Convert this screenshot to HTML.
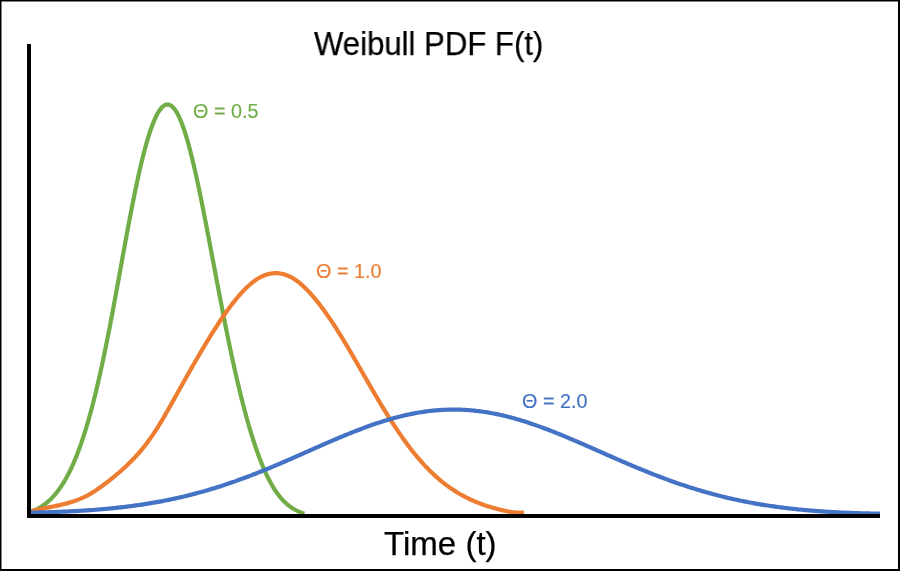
<!DOCTYPE html>
<html><head><meta charset="utf-8"><style>
html,body{margin:0;padding:0;background:#fff;}
body{width:900px;height:571px;overflow:hidden;position:relative;}
svg{position:absolute;left:0;top:0;}
.t{position:absolute;font-family:"Liberation Sans",sans-serif;white-space:nowrap;line-height:1;will-change:transform;}
</style></head><body>
<svg width="900" height="571" viewBox="0 0 900 571">
<rect x="0" y="0" width="900" height="571" fill="#fff"/>
<path d="M30.70,511.76 L32.10,511.25 L33.48,510.69 L34.84,510.10 L36.19,509.48 L37.52,508.81 L38.83,508.11 L40.11,507.37 L41.38,506.59 L42.63,505.78 L43.85,504.93 L45.06,504.05 L46.23,503.13 L47.39,502.18 L48.52,501.21 L49.62,500.20 L50.71,499.17 L51.76,498.11 L52.80,497.03 L53.81,495.92 L54.80,494.79 L55.77,493.65 L56.71,492.48 L57.63,491.30 L58.54,490.10 L59.42,488.88 L60.28,487.66 L61.13,486.41 L61.95,485.16 L62.76,483.89 L63.56,482.61 L64.33,481.33 L65.09,480.03 L65.84,478.72 L66.57,477.41 L67.29,476.09 L67.99,474.76 L68.68,473.42 L69.36,472.08 L70.03,470.73 L70.68,469.37 L71.32,468.01 L71.96,466.64 L72.58,465.27 L73.19,463.90 L73.79,462.52 L74.38,461.14 L74.97,459.75 L75.54,458.36 L76.11,456.96 L76.66,455.56 L77.21,454.16 L77.75,452.76 L78.29,451.35 L78.82,449.94 L79.34,448.53 L79.85,447.12 L80.36,445.70 L80.86,444.28 L81.35,442.86 L81.84,441.43 L82.32,440.01 L82.80,438.58 L83.27,437.15 L83.73,435.72 L84.19,434.29 L84.65,432.86 L85.10,431.42 L85.55,429.98 L85.99,428.54 L86.42,427.10 L86.85,425.66 L87.28,424.22 L87.71,422.78 L88.12,421.33 L88.54,419.89 L88.95,418.44 L89.36,416.99 L89.76,415.54 L90.16,414.09 L90.56,412.64 L90.95,411.19 L91.34,409.74 L91.73,408.28 L92.11,406.83 L92.49,405.37 L92.87,403.92 L93.25,402.46 L93.62,401.00 L93.99,399.55 L94.35,398.09 L94.72,396.63 L95.08,395.17 L95.43,393.71 L95.79,392.25 L96.14,390.79 L96.49,389.32 L96.84,387.86 L97.19,386.40 L97.53,384.93 L97.87,383.47 L98.21,382.00 L98.55,380.54 L98.88,379.07 L99.22,377.61 L99.55,376.14 L99.88,374.67 L100.20,373.21 L100.53,371.74 L100.85,370.27 L101.17,368.80 L101.49,367.33 L101.81,365.86 L102.13,364.39 L102.44,362.92 L102.76,361.45 L103.07,359.98 L103.38,358.51 L103.69,357.04 L104.00,355.57 L104.30,354.10 L104.61,352.62 L104.91,351.15 L105.21,349.68 L105.51,348.21 L105.81,346.73 L106.11,345.26 L106.41,343.79 L106.70,342.31 L107.00,340.84 L107.29,339.37 L107.58,337.89 L107.88,336.42 L108.17,334.94 L108.46,333.47 L108.74,331.99 L109.03,330.52 L109.32,329.04 L109.60,327.57 L109.89,326.09 L110.17,324.61 L110.46,323.14 L110.74,321.66 L111.02,320.19 L111.30,318.71 L111.58,317.23 L111.86,315.76 L112.14,314.28 L112.42,312.80 L112.69,311.32 L112.97,309.85 L113.25,308.37 L113.52,306.89 L113.80,305.42 L114.07,303.94 L114.35,302.46 L114.62,300.98 L114.89,299.50 L115.16,298.03 L115.44,296.55 L115.71,295.07 L115.98,293.59 L116.25,292.11 L116.52,290.64 L116.79,289.16 L117.06,287.68 L117.33,286.20 L117.60,284.72 L117.87,283.24 L118.14,281.77 L118.41,280.29 L118.67,278.81 L118.94,277.33 L119.21,275.85 L119.48,274.37 L119.75,272.89 L120.02,271.42 L120.28,269.94 L120.55,268.46 L120.82,266.98 L121.09,265.50 L121.36,264.02 L121.62,262.54 L121.89,261.07 L122.16,259.59 L122.43,258.11 L122.70,256.63 L122.96,255.15 L123.23,253.67 L123.50,252.19 L123.77,250.72 L124.04,249.24 L124.31,247.76 L124.58,246.28 L124.85,244.80 L125.12,243.32 L125.39,241.85 L125.67,240.37 L125.94,238.89 L126.21,237.41 L126.48,235.94 L126.76,234.46 L127.03,232.98 L127.30,231.50 L127.58,230.03 L127.86,228.55 L128.13,227.07 L128.41,225.59 L128.69,224.12 L128.97,222.64 L129.24,221.16 L129.52,219.69 L129.81,218.21 L130.09,216.74 L130.37,215.26 L130.65,213.78 L130.94,212.31 L131.22,210.83 L131.51,209.36 L131.80,207.88 L132.09,206.41 L132.38,204.93 L132.67,203.46 L132.96,201.98 L133.25,200.51 L133.55,199.04 L133.85,197.56 L134.14,196.09 L134.44,194.62 L134.74,193.15 L135.05,191.67 L135.35,190.20 L135.66,188.73 L135.96,187.26 L136.27,185.79 L136.59,184.32 L136.90,182.85 L137.21,181.38 L137.53,179.91 L137.85,178.44 L138.17,176.97 L138.50,175.50 L138.82,174.04 L139.15,172.57 L139.48,171.10 L139.82,169.64 L140.15,168.17 L140.49,166.71 L140.84,165.25 L141.18,163.78 L141.53,162.32 L141.89,160.86 L142.24,159.40 L142.60,157.94 L142.97,156.48 L143.33,155.02 L143.70,153.57 L144.08,152.11 L144.46,150.66 L144.85,149.20 L145.24,147.75 L145.63,146.30 L146.04,144.85 L146.44,143.40 L146.86,141.96 L147.28,140.51 L147.70,139.07 L148.14,137.63 L148.58,136.20 L149.03,134.76 L149.49,133.33 L149.96,131.90 L150.44,130.47 L150.93,129.05 L151.43,127.63 L151.94,126.22 L152.47,124.81 L153.02,123.40 L153.58,122.01 L154.15,120.62 L154.75,119.24 L155.37,117.86 L156.02,116.50 L156.69,115.16 L157.40,113.83 L158.15,112.52 L158.94,111.23 L159.79,109.98 L160.70,108.78 L161.69,107.63 L162.77,106.58 L163.98,105.66 L165.33,104.95 L166.80,104.55 L168.32,104.56 L169.78,104.98 L171.12,105.70 L172.31,106.63 L173.38,107.69 L174.35,108.84 L175.24,110.06 L176.07,111.31 L176.85,112.60 L177.58,113.91 L178.27,115.25 L178.93,116.60 L179.56,117.96 L180.17,119.34 L180.75,120.72 L181.31,122.12 L181.86,123.52 L182.39,124.92 L182.90,126.33 L183.40,127.75 L183.89,129.17 L184.37,130.59 L184.84,132.02 L185.29,133.45 L185.74,134.89 L186.18,136.32 L186.61,137.76 L187.04,139.20 L187.46,140.65 L187.87,142.09 L188.27,143.54 L188.67,144.99 L189.06,146.44 L189.45,147.89 L189.84,149.34 L190.22,150.79 L190.59,152.25 L190.96,153.70 L191.33,155.16 L191.69,156.62 L192.05,158.08 L192.40,159.54 L192.76,161.00 L193.10,162.46 L193.45,163.92 L193.79,165.39 L194.13,166.85 L194.47,168.31 L194.80,169.78 L195.14,171.24 L195.47,172.71 L195.79,174.17 L196.12,175.64 L196.44,177.11 L196.77,178.58 L197.08,180.04 L197.40,181.51 L197.72,182.98 L198.03,184.45 L198.35,185.92 L198.66,187.39 L198.97,188.86 L199.27,190.33 L199.58,191.80 L199.88,193.27 L200.19,194.74 L200.49,196.22 L200.79,197.69 L201.09,199.16 L201.39,200.63 L201.69,202.11 L201.99,203.58 L202.28,205.05 L202.58,206.53 L202.87,208.00 L203.16,209.47 L203.46,210.95 L203.75,212.42 L204.04,213.90 L204.33,215.37 L204.62,216.84 L204.90,218.32 L205.19,219.79 L205.48,221.27 L205.77,222.74 L206.05,224.22 L206.34,225.69 L206.62,227.17 L206.91,228.64 L207.19,230.12 L207.47,231.60 L207.76,233.07 L208.04,234.55 L208.32,236.02 L208.60,237.50 L208.88,238.98 L209.16,240.45 L209.44,241.93 L209.72,243.40 L210.01,244.88 L210.29,246.36 L210.56,247.83 L210.84,249.31 L211.12,250.79 L211.40,252.26 L211.68,253.74 L211.96,255.22 L212.24,256.69 L212.52,258.17 L212.80,259.65 L213.08,261.12 L213.36,262.60 L213.63,264.08 L213.91,265.55 L214.19,267.03 L214.47,268.51 L214.75,269.98 L215.03,271.46 L215.31,272.93 L215.59,274.41 L215.87,275.89 L216.15,277.36 L216.43,278.84 L216.71,280.32 L216.99,281.79 L217.27,283.27 L217.55,284.75 L217.83,286.22 L218.11,287.70 L218.39,289.17 L218.67,290.65 L218.95,292.13 L219.24,293.60 L219.52,295.08 L219.80,296.55 L220.09,298.03 L220.37,299.51 L220.65,300.98 L220.94,302.46 L221.22,303.93 L221.51,305.41 L221.80,306.88 L222.08,308.36 L222.37,309.83 L222.66,311.31 L222.95,312.78 L223.24,314.26 L223.53,315.73 L223.82,317.21 L224.11,318.68 L224.40,320.15 L224.69,321.63 L224.98,323.10 L225.28,324.57 L225.57,326.05 L225.87,327.52 L226.16,328.99 L226.46,330.47 L226.76,331.94 L227.06,333.41 L227.35,334.89 L227.65,336.36 L227.96,337.83 L228.26,339.30 L228.56,340.77 L228.86,342.25 L229.17,343.72 L229.48,345.19 L229.78,346.66 L230.09,348.13 L230.40,349.60 L230.71,351.07 L231.02,352.54 L231.33,354.01 L231.65,355.48 L231.96,356.95 L232.28,358.42 L232.60,359.88 L232.92,361.35 L233.24,362.82 L233.56,364.29 L233.88,365.76 L234.21,367.22 L234.53,368.69 L234.86,370.15 L235.19,371.62 L235.52,373.09 L235.85,374.55 L236.18,376.02 L236.52,377.48 L236.86,378.94 L237.20,380.41 L237.54,381.87 L237.88,383.33 L238.22,384.79 L238.57,386.26 L238.92,387.72 L239.27,389.18 L239.62,390.64 L239.98,392.10 L240.33,393.56 L240.69,395.01 L241.06,396.47 L241.42,397.93 L241.79,399.39 L242.15,400.84 L242.52,402.30 L242.90,403.75 L243.27,405.21 L243.65,406.66 L244.03,408.11 L244.42,409.56 L244.80,411.01 L245.19,412.46 L245.58,413.91 L245.98,415.36 L246.38,416.81 L246.78,418.26 L247.18,419.70 L247.59,421.15 L248.00,422.59 L248.41,424.03 L248.83,425.48 L249.25,426.92 L249.67,428.36 L250.10,429.80 L250.53,431.23 L250.97,432.67 L251.41,434.10 L251.85,435.54 L252.30,436.97 L252.75,438.40 L253.20,439.83 L253.66,441.26 L254.13,442.69 L254.60,444.11 L255.07,445.53 L255.55,446.95 L256.04,448.37 L256.53,449.79 L257.03,451.21 L257.53,452.62 L258.04,454.03 L258.55,455.44 L259.08,456.84 L259.61,458.25 L260.14,459.65 L260.69,461.05 L261.24,462.44 L261.80,463.83 L262.36,465.22 L262.94,466.61 L263.53,467.99 L264.12,469.36 L264.73,470.74 L265.34,472.11 L265.97,473.47 L266.61,474.83 L267.26,476.18 L267.92,477.53 L268.59,478.87 L269.28,480.20 L269.98,481.53 L270.70,482.85 L271.43,484.17 L272.18,485.47 L272.94,486.77 L273.73,488.05 L274.53,489.32 L275.35,490.58 L276.20,491.83 L277.07,493.06 L277.96,494.28 L278.88,495.48 L279.82,496.66 L280.79,497.83 L281.78,498.97 L282.81,500.08 L283.86,501.17 L284.94,502.23 L286.05,503.27 L287.19,504.27 L288.36,505.24 L289.56,506.17 L290.79,507.07 L292.04,507.93 L293.33,508.74 L294.64,509.52 L295.97,510.25 L297.32,510.94 L298.70,511.58 L300.09,512.18 L301.51,512.73 L302.94,513.24 L304.37,513.70" fill="none" stroke="#70AD47" stroke-width="4.2" stroke-linejoin="round"/>
<path d="M30.96,511.26 L32.43,510.89 L33.90,510.54 L35.37,510.20 L36.84,509.87 L38.31,509.54 L39.78,509.23 L41.25,508.92 L42.71,508.62 L44.18,508.32 L45.65,508.02 L47.11,507.72 L48.58,507.43 L50.05,507.13 L51.51,506.84 L52.98,506.54 L54.44,506.23 L55.91,505.92 L57.37,505.61 L58.83,505.28 L60.29,504.95 L61.75,504.61 L63.20,504.26 L64.66,503.89 L66.11,503.51 L67.55,503.12 L69.00,502.71 L70.44,502.29 L71.87,501.84 L73.31,501.38 L74.73,500.90 L76.15,500.41 L77.56,499.89 L78.96,499.34 L80.36,498.78 L81.74,498.19 L83.12,497.58 L84.48,496.95 L85.84,496.29 L87.18,495.60 L88.50,494.89 L89.81,494.15 L91.11,493.39 L92.39,492.60 L93.67,491.80 L94.93,490.98 L96.17,490.14 L97.41,489.29 L98.64,488.43 L99.87,487.56 L101.08,486.68 L102.30,485.80 L103.50,484.91 L104.71,484.02 L105.91,483.12 L107.10,482.21 L108.29,481.30 L109.47,480.38 L110.65,479.45 L111.83,478.52 L113.00,477.58 L114.16,476.63 L115.32,475.68 L116.48,474.72 L117.63,473.75 L118.77,472.77 L119.91,471.78 L121.04,470.79 L122.16,469.79 L123.28,468.78 L124.39,467.76 L125.50,466.74 L126.60,465.70 L127.69,464.66 L128.77,463.61 L129.85,462.55 L130.92,461.48 L131.98,460.41 L133.03,459.32 L134.08,458.23 L135.11,457.13 L136.14,456.02 L137.16,454.90 L138.16,453.78 L139.16,452.64 L140.15,451.50 L141.13,450.34 L142.10,449.18 L143.05,448.01 L144.00,446.83 L144.94,445.64 L145.86,444.45 L146.78,443.25 L147.68,442.04 L148.58,440.82 L149.46,439.59 L150.34,438.36 L151.21,437.13 L152.07,435.88 L152.92,434.64 L153.76,433.38 L154.60,432.12 L155.42,430.86 L156.24,429.59 L157.06,428.32 L157.86,427.05 L158.66,425.77 L159.46,424.48 L160.25,423.20 L161.03,421.91 L161.81,420.61 L162.58,419.32 L163.35,418.02 L164.11,416.72 L164.87,415.41 L165.63,414.11 L166.38,412.80 L167.13,411.49 L167.88,410.18 L168.62,408.87 L169.36,407.56 L170.10,406.25 L170.84,404.93 L171.57,403.62 L172.31,402.30 L173.04,400.99 L173.77,399.67 L174.51,398.35 L175.24,397.04 L175.97,395.72 L176.70,394.41 L177.44,393.09 L178.17,391.78 L178.90,390.46 L179.64,389.15 L180.37,387.83 L181.10,386.52 L181.84,385.20 L182.57,383.89 L183.31,382.57 L184.05,381.26 L184.78,379.95 L185.52,378.63 L186.26,377.32 L187.00,376.01 L187.74,374.70 L188.48,373.39 L189.22,372.08 L189.97,370.77 L190.71,369.46 L191.46,368.15 L192.20,366.84 L192.95,365.53 L193.70,364.23 L194.45,362.92 L195.20,361.62 L195.95,360.31 L196.71,359.01 L197.46,357.70 L198.22,356.40 L198.98,355.10 L199.74,353.80 L200.51,352.50 L201.27,351.20 L202.04,349.91 L202.81,348.61 L203.58,347.31 L204.35,346.02 L205.13,344.73 L205.91,343.44 L206.69,342.15 L207.47,340.86 L208.25,339.57 L209.04,338.29 L209.83,337.00 L210.63,335.72 L211.42,334.44 L212.22,333.16 L213.02,331.89 L213.83,330.61 L214.64,329.34 L215.45,328.07 L216.27,326.80 L217.09,325.54 L217.91,324.27 L218.74,323.01 L219.57,321.75 L220.41,320.50 L221.25,319.25 L222.10,318.00 L222.95,316.76 L223.81,315.51 L224.67,314.28 L225.54,313.04 L226.41,311.81 L227.29,310.59 L228.17,309.37 L229.07,308.15 L229.96,306.94 L230.87,305.74 L231.78,304.54 L232.71,303.34 L233.64,302.15 L234.57,300.97 L235.52,299.80 L236.48,298.63 L237.44,297.48 L238.42,296.33 L239.41,295.19 L240.41,294.06 L241.42,292.94 L242.44,291.83 L243.48,290.73 L244.53,289.65 L245.60,288.58 L246.68,287.53 L247.77,286.49 L248.89,285.47 L250.02,284.47 L251.17,283.49 L252.34,282.54 L253.53,281.61 L254.75,280.71 L255.99,279.84 L257.25,279.01 L258.54,278.22 L259.86,277.47 L261.20,276.77 L262.58,276.13 L263.97,275.54 L265.39,275.00 L266.83,274.53 L268.28,274.12 L269.76,273.78 L271.24,273.51 L272.74,273.31 L274.24,273.19 L275.75,273.14 L277.26,273.17 L278.76,273.29 L280.25,273.47 L281.73,273.74 L283.20,274.08 L284.64,274.49 L286.06,274.97 L287.46,275.50 L288.84,276.10 L290.19,276.75 L291.52,277.45 L292.82,278.19 L294.09,278.97 L295.34,279.80 L296.57,280.65 L297.77,281.54 L298.96,282.46 L300.12,283.41 L301.26,284.38 L302.38,285.37 L303.48,286.38 L304.57,287.41 L305.64,288.45 L306.70,289.52 L307.74,290.59 L308.77,291.68 L309.78,292.78 L310.79,293.89 L311.78,295.02 L312.77,296.15 L313.74,297.29 L314.71,298.44 L315.66,299.59 L316.61,300.76 L317.55,301.93 L318.48,303.11 L319.41,304.29 L320.32,305.48 L321.23,306.68 L322.13,307.88 L323.03,309.09 L323.92,310.30 L324.80,311.52 L325.68,312.74 L326.55,313.97 L327.41,315.20 L328.27,316.44 L329.13,317.68 L329.98,318.92 L330.82,320.17 L331.66,321.42 L332.49,322.67 L333.32,323.93 L334.14,325.19 L334.96,326.45 L335.77,327.72 L336.58,328.99 L337.39,330.26 L338.19,331.54 L338.99,332.81 L339.79,334.09 L340.58,335.37 L341.37,336.66 L342.16,337.94 L342.94,339.23 L343.72,340.52 L344.50,341.81 L345.28,343.10 L346.05,344.39 L346.82,345.68 L347.59,346.98 L348.36,348.28 L349.12,349.57 L349.89,350.87 L350.65,352.17 L351.41,353.47 L352.17,354.77 L352.93,356.07 L353.68,357.38 L354.44,358.68 L355.19,359.98 L355.95,361.29 L356.70,362.59 L357.45,363.90 L358.20,365.20 L358.95,366.51 L359.70,367.82 L360.45,369.12 L361.20,370.43 L361.95,371.73 L362.70,373.04 L363.45,374.35 L364.20,375.65 L364.95,376.96 L365.70,378.26 L366.45,379.57 L367.20,380.88 L367.96,382.18 L368.71,383.48 L369.46,384.79 L370.21,386.09 L370.97,387.40 L371.73,388.70 L372.48,390.00 L373.24,391.30 L374.00,392.60 L374.76,393.90 L375.52,395.20 L376.28,396.50 L377.05,397.79 L377.82,399.09 L378.58,400.38 L379.35,401.68 L380.13,402.97 L380.90,404.26 L381.68,405.55 L382.46,406.84 L383.24,408.12 L384.02,409.41 L384.81,410.69 L385.60,411.97 L386.39,413.25 L387.18,414.53 L387.98,415.81 L388.78,417.08 L389.58,418.35 L390.39,419.62 L391.20,420.89 L392.01,422.16 L392.83,423.42 L393.65,424.68 L394.47,425.94 L395.30,427.20 L396.13,428.45 L396.97,429.70 L397.81,430.95 L398.66,432.19 L399.50,433.44 L400.36,434.67 L401.22,435.91 L402.08,437.14 L402.95,438.37 L403.82,439.59 L404.70,440.81 L405.59,442.03 L406.47,443.24 L407.37,444.45 L408.27,445.66 L409.18,446.85 L410.09,448.05 L411.01,449.24 L411.93,450.43 L412.87,451.61 L413.80,452.78 L414.75,453.95 L415.70,455.11 L416.66,456.27 L417.62,457.42 L418.60,458.57 L419.58,459.71 L420.57,460.84 L421.56,461.97 L422.57,463.09 L423.58,464.20 L424.60,465.31 L425.62,466.40 L426.66,467.49 L427.70,468.57 L428.76,469.64 L429.82,470.71 L430.89,471.76 L431.97,472.81 L433.06,473.84 L434.16,474.87 L435.27,475.89 L436.38,476.89 L437.51,477.89 L438.64,478.87 L439.79,479.85 L440.94,480.81 L442.11,481.76 L443.28,482.70 L444.47,483.62 L445.66,484.54 L446.86,485.44 L448.08,486.33 L449.30,487.20 L450.53,488.07 L451.77,488.91 L453.02,489.75 L454.28,490.57 L455.55,491.38 L456.83,492.17 L458.11,492.95 L459.41,493.71 L460.71,494.46 L462.03,495.20 L463.35,495.92 L464.68,496.62 L466.01,497.32 L467.36,497.99 L468.71,498.65 L470.07,499.30 L471.44,499.93 L472.82,500.54 L474.20,501.15 L475.59,501.73 L476.98,502.30 L478.38,502.86 L479.79,503.41 L481.21,503.94 L482.62,504.45 L484.05,504.95 L485.48,505.44 L486.91,505.92 L488.35,506.38 L489.79,506.83 L491.24,507.27 L492.69,507.70 L494.14,508.11 L495.60,508.52 L497.06,508.91 L498.53,509.29 L500.00,509.66 L501.47,510.02 L502.94,510.37 L504.42,510.71 L505.90,511.02 L507.39,511.32 L508.88,511.59 L510.37,511.84 L511.87,512.05 L513.37,512.24 L514.88,512.39 L516.39,512.51 L517.90,512.58 L519.42,512.62 L520.94,512.60 L522.46,512.54 L523.99,512.43" fill="none" stroke="#ED7D31" stroke-width="4.2" stroke-linejoin="round"/>
<path d="M30.98,512.68 L32.48,512.64 L33.98,512.61 L35.48,512.57 L36.98,512.54 L38.49,512.50 L39.99,512.46 L41.49,512.42 L42.99,512.38 L44.49,512.34 L45.99,512.29 L47.49,512.24 L49.00,512.20 L50.50,512.15 L52.00,512.10 L53.50,512.04 L55.00,511.99 L56.50,511.93 L58.00,511.87 L59.50,511.81 L61.00,511.75 L62.50,511.69 L64.00,511.62 L65.50,511.56 L67.00,511.49 L68.51,511.42 L70.01,511.34 L71.51,511.27 L73.01,511.19 L74.51,511.11 L76.00,511.03 L77.50,510.94 L79.00,510.86 L80.50,510.77 L82.00,510.68 L83.50,510.58 L85.00,510.49 L86.50,510.39 L88.00,510.29 L89.50,510.18 L90.99,510.08 L92.49,509.97 L93.99,509.86 L95.49,509.74 L96.99,509.62 L98.48,509.50 L99.98,509.38 L101.48,509.26 L102.97,509.13 L104.47,508.99 L105.97,508.86 L107.46,508.72 L108.96,508.58 L110.45,508.44 L111.95,508.29 L113.44,508.14 L114.94,507.98 L116.43,507.82 L117.92,507.66 L119.42,507.50 L120.91,507.33 L122.40,507.16 L123.89,506.98 L125.39,506.81 L126.88,506.62 L128.37,506.44 L129.86,506.25 L131.35,506.06 L132.84,505.86 L134.33,505.66 L135.81,505.45 L137.30,505.24 L138.79,505.03 L140.28,504.81 L141.76,504.59 L143.25,504.37 L144.73,504.14 L146.22,503.91 L147.70,503.67 L149.18,503.43 L150.67,503.18 L152.15,502.93 L153.63,502.68 L155.11,502.42 L156.59,502.16 L158.07,501.89 L159.55,501.62 L161.02,501.35 L162.50,501.07 L163.98,500.78 L165.45,500.49 L166.92,500.20 L168.40,499.90 L169.87,499.60 L171.34,499.29 L172.81,498.98 L174.28,498.67 L175.75,498.35 L177.21,498.02 L178.68,497.69 L180.15,497.36 L181.61,497.02 L183.07,496.68 L184.54,496.33 L186.00,495.98 L187.46,495.62 L188.92,495.26 L190.37,494.89 L191.83,494.52 L193.29,494.15 L194.74,493.77 L196.19,493.39 L197.64,493.00 L199.09,492.60 L200.54,492.21 L201.99,491.80 L203.44,491.40 L204.88,490.99 L206.33,490.57 L207.77,490.15 L209.21,489.73 L210.65,489.30 L212.09,488.86 L213.53,488.43 L214.97,487.98 L216.40,487.54 L217.84,487.09 L219.27,486.63 L220.70,486.17 L222.13,485.71 L223.56,485.24 L224.99,484.77 L226.41,484.30 L227.84,483.82 L229.26,483.33 L230.68,482.85 L232.10,482.36 L233.52,481.86 L234.94,481.36 L236.35,480.86 L237.77,480.35 L239.18,479.84 L240.59,479.33 L242.00,478.81 L243.41,478.29 L244.82,477.77 L246.23,477.24 L247.64,476.71 L249.04,476.18 L250.44,475.64 L251.85,475.10 L253.25,474.56 L254.65,474.01 L256.05,473.46 L257.44,472.91 L258.84,472.35 L260.23,471.79 L261.63,471.23 L263.02,470.67 L264.41,470.10 L265.81,469.54 L267.20,468.96 L268.58,468.39 L269.97,467.82 L271.36,467.24 L272.75,466.66 L274.13,466.08 L275.51,465.49 L276.90,464.91 L278.28,464.32 L279.66,463.73 L281.04,463.14 L282.42,462.54 L283.80,461.95 L285.18,461.35 L286.56,460.76 L287.94,460.16 L289.32,459.56 L290.70,458.96 L292.07,458.35 L293.45,457.75 L294.82,457.15 L296.20,456.54 L297.57,455.93 L298.95,455.33 L300.32,454.72 L301.70,454.11 L303.07,453.50 L304.44,452.90 L305.82,452.29 L307.19,451.68 L308.57,451.07 L309.94,450.46 L311.31,449.85 L312.69,449.25 L314.06,448.64 L315.44,448.03 L316.81,447.42 L318.19,446.82 L319.56,446.21 L320.94,445.61 L322.31,445.00 L323.69,444.40 L325.07,443.80 L326.44,443.20 L327.82,442.60 L329.20,442.00 L330.58,441.40 L331.96,440.81 L333.34,440.22 L334.72,439.63 L336.10,439.04 L337.49,438.45 L338.87,437.87 L340.26,437.28 L341.64,436.70 L343.03,436.13 L344.42,435.55 L345.81,434.98 L347.20,434.41 L348.59,433.85 L349.99,433.28 L351.38,432.72 L352.78,432.17 L354.18,431.62 L355.58,431.07 L356.98,430.52 L358.38,429.98 L359.78,429.44 L361.19,428.91 L362.59,428.38 L364.00,427.86 L365.41,427.34 L366.83,426.82 L368.24,426.31 L369.66,425.80 L371.07,425.30 L372.49,424.81 L373.91,424.32 L375.34,423.83 L376.76,423.36 L378.19,422.88 L379.62,422.41 L381.05,421.95 L382.48,421.50 L383.91,421.05 L385.35,420.61 L386.79,420.17 L388.23,419.74 L389.67,419.32 L391.12,418.91 L392.56,418.50 L394.01,418.10 L395.46,417.70 L396.92,417.32 L398.37,416.94 L399.83,416.57 L401.29,416.21 L402.75,415.85 L404.21,415.51 L405.68,415.17 L407.14,414.84 L408.61,414.53 L410.08,414.21 L411.55,413.91 L413.03,413.62 L414.50,413.34 L415.98,413.06 L417.46,412.80 L418.94,412.54 L420.43,412.30 L421.91,412.06 L423.40,411.84 L424.88,411.62 L426.37,411.42 L427.86,411.23 L429.36,411.04 L430.85,410.87 L432.34,410.71 L433.84,410.55 L435.33,410.41 L436.83,410.28 L438.33,410.16 L439.83,410.05 L441.33,409.96 L442.83,409.87 L444.33,409.79 L445.83,409.73 L447.33,409.68 L448.83,409.63 L450.33,409.60 L451.84,409.58 L453.34,409.58 L454.84,409.58 L456.34,409.59 L457.85,409.62 L459.35,409.66 L460.85,409.71 L462.35,409.77 L463.85,409.84 L465.35,409.92 L466.85,410.01 L468.35,410.12 L469.85,410.23 L471.34,410.36 L472.84,410.49 L474.33,410.64 L475.83,410.80 L477.32,410.97 L478.81,411.15 L480.30,411.34 L481.79,411.54 L483.28,411.75 L484.76,411.97 L486.25,412.20 L487.73,412.44 L489.21,412.70 L490.69,412.96 L492.17,413.23 L493.64,413.51 L495.12,413.80 L496.59,414.09 L498.06,414.40 L499.53,414.72 L500.99,415.04 L502.46,415.38 L503.92,415.72 L505.38,416.07 L506.84,416.43 L508.30,416.80 L509.75,417.17 L511.20,417.56 L512.65,417.95 L514.10,418.35 L515.55,418.75 L516.99,419.17 L518.43,419.59 L519.87,420.01 L521.31,420.45 L522.75,420.89 L524.18,421.33 L525.61,421.79 L527.04,422.25 L528.47,422.71 L529.90,423.18 L531.32,423.66 L532.75,424.14 L534.17,424.63 L535.59,425.13 L537.00,425.63 L538.42,426.13 L539.83,426.64 L541.24,427.15 L542.65,427.67 L544.06,428.19 L545.47,428.72 L546.87,429.25 L548.28,429.79 L549.68,430.33 L551.08,430.87 L552.48,431.42 L553.88,431.97 L555.27,432.52 L556.67,433.08 L558.06,433.64 L559.45,434.21 L560.85,434.78 L562.24,435.35 L563.62,435.92 L565.01,436.49 L566.40,437.07 L567.79,437.65 L569.17,438.24 L570.55,438.82 L571.94,439.41 L573.32,440.00 L574.70,440.59 L576.08,441.18 L577.46,441.78 L578.84,442.37 L580.22,442.97 L581.60,443.57 L582.97,444.17 L584.35,444.77 L585.73,445.38 L587.10,445.98 L588.48,446.58 L589.85,447.19 L591.23,447.79 L592.60,448.40 L593.98,449.01 L595.35,449.61 L596.73,450.22 L598.10,450.83 L599.48,451.44 L600.85,452.04 L602.23,452.65 L603.60,453.26 L604.97,453.87 L606.35,454.47 L607.72,455.08 L609.10,455.69 L610.47,456.29 L611.85,456.90 L613.22,457.50 L614.60,458.10 L615.98,458.70 L617.35,459.31 L618.73,459.91 L620.11,460.50 L621.49,461.10 L622.87,461.70 L624.25,462.29 L625.63,462.89 L627.01,463.48 L628.39,464.07 L629.77,464.65 L631.16,465.24 L632.54,465.83 L633.92,466.41 L635.31,466.99 L636.70,467.57 L638.08,468.14 L639.47,468.72 L640.86,469.29 L642.25,469.86 L643.64,470.43 L645.03,470.99 L646.43,471.55 L647.82,472.11 L649.22,472.67 L650.61,473.23 L652.01,473.78 L653.41,474.33 L654.81,474.87 L656.21,475.41 L657.61,475.95 L659.01,476.49 L660.42,477.02 L661.82,477.55 L663.23,478.08 L664.64,478.61 L666.04,479.13 L667.45,479.64 L668.87,480.16 L670.28,480.67 L671.69,481.17 L673.11,481.68 L674.52,482.18 L675.94,482.67 L677.36,483.16 L678.78,483.65 L680.20,484.14 L681.63,484.62 L683.05,485.10 L684.48,485.57 L685.90,486.04 L687.33,486.50 L688.76,486.97 L690.19,487.42 L691.62,487.88 L693.05,488.33 L694.49,488.77 L695.93,489.21 L697.36,489.65 L698.80,490.08 L700.24,490.51 L701.68,490.94 L703.12,491.36 L704.57,491.77 L706.01,492.18 L707.46,492.59 L708.90,493.00 L710.35,493.39 L711.80,493.79 L713.25,494.18 L714.70,494.56 L716.16,494.95 L717.61,495.32 L719.07,495.70 L720.52,496.06 L721.98,496.43 L723.44,496.79 L724.90,497.14 L726.36,497.49 L727.82,497.84 L729.29,498.18 L730.75,498.52 L732.22,498.85 L733.68,499.18 L735.15,499.50 L736.62,499.82 L738.09,500.14 L739.56,500.45 L741.03,500.75 L742.50,501.05 L743.97,501.35 L745.45,501.64 L746.92,501.93 L748.40,502.22 L749.87,502.50 L751.35,502.77 L752.83,503.04 L754.31,503.31 L755.79,503.57 L757.27,503.83 L758.75,504.09 L760.23,504.34 L761.72,504.58 L763.20,504.82 L764.68,505.06 L766.17,505.30 L767.65,505.53 L769.14,505.75 L770.63,505.97 L772.11,506.19 L773.60,506.40 L775.09,506.61 L776.58,506.82 L778.07,507.02 L779.56,507.22 L781.05,507.42 L782.54,507.61 L784.03,507.79 L785.52,507.98 L787.02,508.16 L788.51,508.33 L790.00,508.51 L791.50,508.68 L792.99,508.84 L794.48,509.00 L795.98,509.16 L797.47,509.32 L798.97,509.47 L800.47,509.62 L801.96,509.76 L803.46,509.91 L804.96,510.04 L806.45,510.18 L807.95,510.31 L809.45,510.44 L810.95,510.57 L812.44,510.69 L813.94,510.81 L815.44,510.93 L816.94,511.04 L818.44,511.16 L819.94,511.27 L821.44,511.37 L822.94,511.47 L824.44,511.57 L825.94,511.67 L827.44,511.77 L828.94,511.86 L830.44,511.95 L831.94,512.04 L833.44,512.12 L834.94,512.20 L836.44,512.28 L837.94,512.36 L839.44,512.43 L840.94,512.51 L842.45,512.58 L843.95,512.64 L845.45,512.71 L846.95,512.77 L848.45,512.83 L849.95,512.89 L851.46,512.95 L852.96,513.00 L854.46,513.06 L855.96,513.11 L857.46,513.15 L858.97,513.20 L860.47,513.24 L861.97,513.29 L863.47,513.33 L864.97,513.36 L866.48,513.40 L867.98,513.43 L869.48,513.47 L870.98,513.50 L872.49,513.52 L873.99,513.55 L875.49,513.58 L876.99,513.60 L878.50,513.62 L880.00,513.64" fill="none" stroke="#4472C4" stroke-width="4.2" stroke-linejoin="round"/>
<rect x="27" y="44" width="4" height="474" fill="#000"/>
<rect x="27" y="514" width="853" height="4" fill="#000"/>
<rect x="0" y="0" width="900" height="1.5" fill="#000"/>
<rect x="0" y="0" width="1.5" height="571" fill="#000"/>
<rect x="898" y="0" width="2" height="571" fill="#000"/>
<rect x="0" y="569" width="900" height="2" fill="#000"/>
</svg>
<div class="t" id="title" style="left:314px;top:28px;font-size:32.5px;color:#000;-webkit-text-stroke:0.25px #000;transform:scaleX(0.957);transform-origin:0 0;">Weibull PDF F(t)</div>
<div class="t" id="xl" style="left:384px;top:528px;font-size:32.5px;color:#000;-webkit-text-stroke:0.25px #000;transform:scaleX(1.017);transform-origin:0 0;">Time (t)</div>
<div class="t" id="l1" style="left:193.2px;top:102px;font-size:19.8px;color:#70AD47;-webkit-text-stroke:0.15px #70AD47;">&Theta; = 0.5</div>
<div class="t" id="l2" style="left:316.2px;top:262px;font-size:19.8px;color:#ED7D31;-webkit-text-stroke:0.15px #ED7D31;">&Theta; = 1.0</div>
<div class="t" id="l3" style="left:522.4px;top:392px;font-size:19.8px;color:#4472C4;-webkit-text-stroke:0.15px #4472C4;">&Theta; = 2.0</div>

</body></html>
